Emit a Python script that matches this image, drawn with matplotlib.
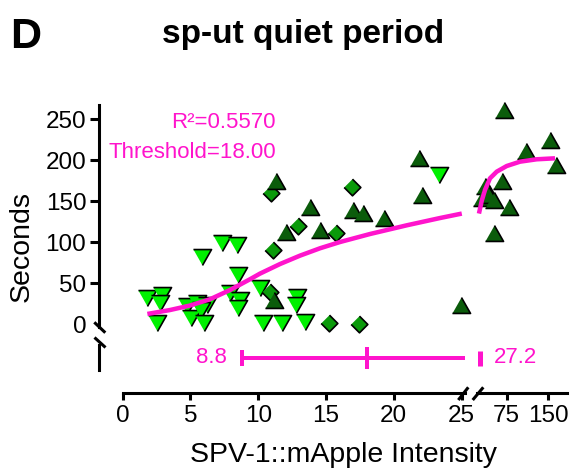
import matplotlib
matplotlib.use('Agg')
import matplotlib.pyplot as plt
from matplotlib.lines import Line2D

plt.rcParams['font.family'] = ['Liberation Sans', 'DejaVu Sans']

# ---------------- data ----------------
# light green down-triangles
down_x = [1.77, 2.88, 2.75, 2.5, 5.83, 7.31, 8.41, 4.77, 5.46, 6.24, 5.02, 5.78, 6.0,
          8.53, 7.92, 8.66, 8.53, 10.13, 10.38, 11.73, 12.84, 12.79, 13.45, 23.34]
down_y = [31.7, 35.7, 25.6, 1.2, 82.4, 98.8, 96.7, 22.3, 26.3, 23.5, 7.3, 17.4, 1.2,
          60.1, 37.8, 29.6, 19.5, 43.9, 1.2, 1.2, 33.7, 23.5, 3.2, 182.1]
# green diamonds
dia_x = [10.89, 11.07, 12.92, 15.72, 10.92, 16.9, 15.25, 17.46]
dia_y = [39.8, 90.6, 119.9, 111.7, 159.8, 167.8, 1.2, 0.0]
# dark green up-triangles
up_x = [11.19, 12.05, 13.82, 14.57, 11.31, 16.97, 17.71, 19.31, 21.89, 22.07, 24.94,
        70.7, 153.2, 109.2, 164.0, 66.0, 35.9, 30.5, 43.1, 52.1, 79.1, 52.3]
up_y = [29.6, 112.9, 143.4, 115.0, 175.1, 139.4, 135.4, 129.3, 202.4, 157.7, 23.5,
        261.3, 224.8, 211.7, 194.3, 175.1, 169.1, 154.0, 157.1, 151.6, 143.4, 111.0]

# fitted curve
curve_x = [1.82, 3.49, 4.97, 6.44, 7.92, 9.39, 10.13, 11.61, 13.08, 14.56, 16.03, 18.25,
           20.96, 23.42, 25.02, 30.0, 35.9, 44.9, 57.0, 75.0, 99.0, 129.0, 162.0]
curve_y = [12.6, 17.4, 22.9, 30.5, 41.8, 54.9, 61.8, 73.5, 83.7, 92.7, 100.3, 110.1,
           120.7, 129.6, 135.0, 150.5, 163.8, 178.0, 186.1, 193.0, 198.3, 201.2, 202.4]

r2_text = 'R\u00b2=0.5570'
threshold = 18.00
ci_low, ci_high = 8.8, 27.2

xticks_left = [0, 5, 10, 15, 20, 25]
xticks_right = [75, 150]
yticks = [0, 50, 100, 150, 200, 250]

title = 'sp-ut quiet period'
panel = 'D'
xlabel = 'SPV-1::mApple Intensity'
ylabel = 'Seconds'

# ---------------- styling ----------------
W, H = 572, 472
fig = plt.figure(figsize=(W / 100, H / 100), dpi=100)
PX = 0.72  # points per pixel

MAG = '#ff14cc'
C_DOWN = '#00f000'
C_DIA = '#0a9a0a'
C_UP = '#0b5c0b'
LW = 2.2
FS_TICK = 17.5
FS_MAG = 16
FS_LAB = 20.5


def rect(x0, y0, x1, y1):
    return [x0 / W, 1 - y1 / H, (x1 - x0) / W, (y1 - y0) / H]


XL = (0, 25.22)
XR = (21.5, 183.6)
YT = (-3.3, 267.4)

ax_tl = fig.add_axes(rect(122.7, 105, 464.5, 327))
ax_tr = fig.add_axes(rect(477, 105, 567, 327))
ax_bl = fig.add_axes(rect(122.7, 345, 464.5, 370))
ax_br = fig.add_axes(rect(477, 345, 567, 370))

for a in (ax_tl, ax_tr, ax_bl, ax_br):
    for s in a.spines.values():
        s.set_visible(False)
        s.set_linewidth(LW)
    a.patch.set_visible(False)

ax_tl.set_xlim(*XL); ax_bl.set_xlim(*XL)
ax_tr.set_xlim(*XR); ax_br.set_xlim(*XR)
ax_tl.set_ylim(*YT); ax_tr.set_ylim(*YT)
ax_bl.set_ylim(0, 1); ax_br.set_ylim(0, 1)

# top-left: y axis
ax_tl.spines['left'].set_visible(True)
ax_tl.spines['left'].set_position(('outward', 23.4 * PX))
ax_tl.set_yticks(yticks)
ax_tl.set_yticklabels([str(v) for v in yticks], fontsize=FS_TICK)
ax_tl.tick_params(axis='y', length=9 * PX, width=LW, pad=4 * PX)
ax_tl.yaxis.get_major_ticks()[0].tick1line.set_visible(False)
ax_tl.set_xticks([])
ax_tr.set_xticks([]); ax_tr.set_yticks([])

# bottom-left: lower y segment + x axis
ax_bl.spines['left'].set_visible(True)
ax_bl.spines['left'].set_position(('outward', 23.4 * PX))
ax_bl.set_yticks([])
ax_bl.spines['bottom'].set_visible(True)
ax_bl.spines['bottom'].set_position(('outward', 23 * PX))
ax_bl.set_xticks(xticks_left)
ax_bl.set_xticklabels([str(v) for v in xticks_left], fontsize=FS_TICK)
ax_bl.tick_params(axis='x', length=7 * PX, width=LW, pad=5 * PX)

ax_br.spines['bottom'].set_visible(True)
ax_br.spines['bottom'].set_position(('outward', 23 * PX))
ax_br.set_yticks([])
ax_br.set_xticks(xticks_right)
ax_br.set_xticklabels([str(v) for v in xticks_right], fontsize=FS_TICK)
ax_br.tick_params(axis='x', length=7 * PX, width=LW, pad=5 * PX)

# markers
down_m = [(-1, 0.88), (1, 0.88), (0, -0.88)]
up_m = [(-1, -0.88), (1, -0.88), (0, 0.88)]
dia_m = [(0, 1), (1, 0), (0, -1), (-1, 0)]
MS_T = 13.0
MS_D = 12.0
MEW = 1.2


def scatter(ax, xs, ys, marker, color, ms, lo, hi):
    px = [x for x in xs if lo <= x <= hi]
    py = [y for x, y in zip(xs, ys) if lo <= x <= hi]
    ax.plot(px, py, linestyle='none', marker=marker, ms=ms, mfc=color,
            mec='black', mew=MEW, clip_on=False, zorder=3)


for ax, (lo, hi) in ((ax_tl, (0, 25.22)), (ax_tr, (25.22, 200))):
    scatter(ax, down_x, down_y, down_m, C_DOWN, MS_T, lo, hi)
    scatter(ax, dia_x, dia_y, dia_m, C_DIA, MS_D, lo, hi)
    scatter(ax, up_x, up_y, up_m, C_UP, MS_T, lo, hi)

# curve
cl = [(x, y) for x, y in zip(curve_x, curve_y) if x <= 25.1]
cr = [(x, y) for x, y in zip(curve_x, curve_y) if x >= 24.9]
ax_tl.plot([p[0] for p in cl], [p[1] for p in cl], color=MAG, lw=4.5 * PX,
           solid_capstyle='butt', solid_joinstyle='round', zorder=4, clip_on=False)
ax_tr.plot([p[0] for p in cr], [p[1] for p in cr], color=MAG, lw=4.5 * PX,
           solid_capstyle='butt', solid_joinstyle='round', zorder=4, clip_on=False)

# annotation text
ax_tl.text(11.3, 246.5, r2_text, color=MAG, fontsize=FS_MAG, ha='right', va='center')
ax_tl.text(11.3, 210.0, 'Threshold=%.2f' % threshold, color=MAG, fontsize=FS_MAG,
           ha='right', va='center')

# confidence interval bar
YB = 0.5
ax_bl.plot([ci_low, XL[1]], [YB, YB], color=MAG, lw=4 * PX, solid_capstyle='butt',
           clip_on=False)
ax_bl.plot([ci_low], [YB], marker='|', ms=16 * PX, mew=4 * PX, color=MAG, clip_on=False)
ax_bl.plot([threshold], [YB], marker='|', ms=22 * PX, mew=4 * PX, color=MAG, clip_on=False)
ax_br.plot([ci_high], [YB], marker='|', ms=15 * PX, mew=5 * PX, color=MAG, clip_on=False)
ax_bl.annotate('%.1f' % ci_low, (ci_low, YB), xytext=(-11, 0), textcoords='offset points',
               ha='right', va='center', color=MAG, fontsize=FS_MAG)
ax_br.annotate('%.1f' % ci_high, (ci_high, YB), xytext=(10, 0), textcoords='offset points',
               ha='left', va='center', color=MAG, fontsize=FS_MAG)


# break marks
def fline(x0, y0, x1, y1):
    fig.add_artist(Line2D([x0 / W, x1 / W], [1 - y0 / H, 1 - y1 / H], color='black',
                          lw=LW, transform=fig.transFigure, solid_capstyle='butt'))


fline(458.3, 400, 468.3, 387.3)
fline(472.7, 400, 483.3, 387.3)
fline(94.3, 322.3, 105.3, 332.7)
fline(94.5, 337.5, 105.5, 347.5)

# labels
fig.text(343 / W, 1 - 455 / H, xlabel, fontsize=FS_LAB, ha='center', va='center')
fig.text(22 / W, 1 - 247 / H, ylabel, fontsize=FS_LAB, ha='center', va='center',
         rotation=90)
fig.text(303 / W, 1 - 43 / H, title, fontsize=24, fontweight='bold', ha='center',
         va='baseline')
fig.text(10 / W, 1 - 48 / H, panel, fontsize=31, fontweight='bold', ha='left',
         va='baseline')

fig.savefig('out.png', dpi=100)
